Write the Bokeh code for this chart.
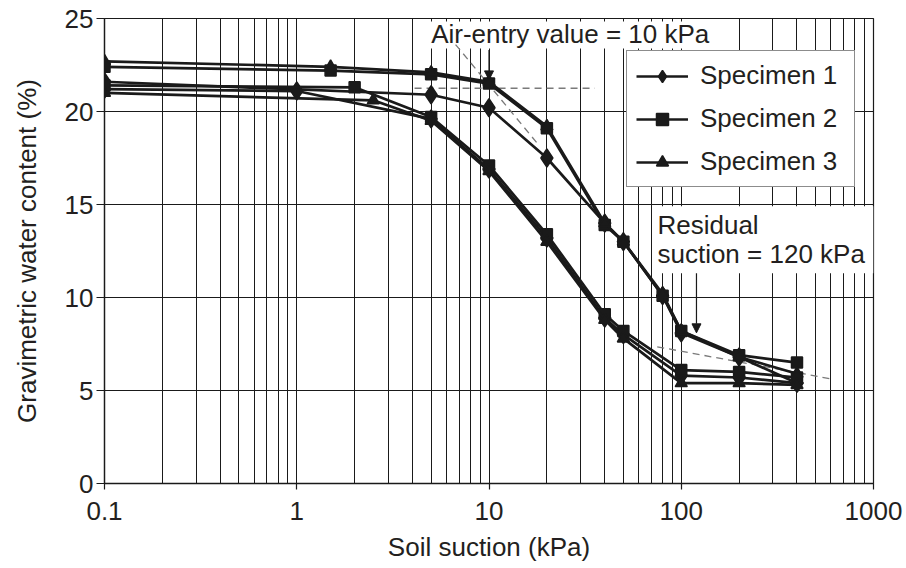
from bokeh.plotting import figure
from bokeh.models import FixedTicker, Label, Arrow, NormalHead
from bokeh.embed import file_html
from bokeh.resources import INLINE

FONT = "Liberation Sans"
INK = "#1a1a1a"
TEXT = "#231f20"

# Soil suction (kPa) and gravimetric water content (%) for each specimen.
# "a" = upper drying curve, "b" = lower drying curve.
s1a_x = [0.1, 5, 10, 20, 40, 50, 80, 100, 200, 400]
s1a_y = [21.6, 20.9, 20.2, 17.5, 14.0, 13.0, 10.1, 8.1, 6.8, 5.4]
s1b_x = [0.1, 1, 5, 10, 20, 40, 50, 100, 200, 400]
s1b_y = [21.2, 21.1, 19.6, 16.9, 13.2, 8.9, 8.0, 5.8, 5.7, 5.4]

s2a_x = [0.1, 1.5, 5, 10, 20, 40, 50, 80, 100, 200, 400]
s2a_y = [22.4, 22.2, 22.0, 21.5, 19.1, 13.9, 13.0, 10.1, 8.2, 6.9, 6.5]
s2b_x = [0.1, 2, 5, 10, 20, 40, 50, 100, 200, 400]
s2b_y = [21.4, 21.3, 19.7, 17.1, 13.4, 9.1, 8.2, 6.1, 6.0, 5.7]

s3a_x = [0.1, 1.5, 5, 10, 20, 40, 50, 80, 100, 200, 400]
s3a_y = [22.7, 22.4, 22.1, 21.6, 19.2, 14.0, 13.0, 10.2, 8.2, 6.8, 5.9]
s3b_x = [0.1, 2.5, 5, 10, 20, 40, 50, 100, 200, 400]
s3b_y = [21.0, 20.6, 19.5, 16.8, 13.0, 8.8, 7.8, 5.4, 5.4, 5.3]

x_ticks = [0.1, 1, 10, 100, 1000]
x_tick_labels = ["0.1", "1", "10", "100", "1000"]
y_ticks = [0, 5, 10, 15, 20, 25]

# Construction lines
air_entry = 10           # kPa
air_entry_level = 21.25  # %
residual = 120           # kPa

p = figure(width=906, height=568, x_axis_type="log",
           x_range=(0.1, 1000), y_range=(0, 25),
           output_backend="svg", toolbar_location=None,
           min_border_left=104, min_border_right=33,
           min_border_top=18, min_border_bottom=85)
p.background_fill_color = "white"
p.border_fill_color = "white"
p.outline_line_color = INK
p.outline_line_width = 1.2

minor = [k * 10.0 ** e for e in range(-1, 3) for k in range(2, 10)]
p.xaxis.ticker = FixedTicker(ticks=x_ticks, minor_ticks=minor)
p.xaxis.major_label_overrides = dict(zip(x_ticks, x_tick_labels))
p.yaxis.ticker = FixedTicker(ticks=y_ticks)

for g in (p.xgrid, p.ygrid):
    g.grid_line_color = INK
    g.grid_line_width = 1
p.xgrid.minor_grid_line_color = INK
p.xgrid.minor_grid_line_width = 1

for ax in (p.xaxis, p.yaxis):
    ax.axis_line_color = INK
    ax.axis_line_width = 1.3
    ax.major_tick_line_color = INK
    ax.major_tick_line_width = 1.2
    ax.major_tick_in = 0
    ax.minor_tick_line_color = None
    ax.major_label_text_font = FONT
    ax.major_label_text_font_size = "26px"
    ax.major_label_text_color = TEXT
    ax.axis_label_text_font = FONT
    ax.axis_label_text_font_size = "26px"
    ax.axis_label_text_font_style = "normal"
    ax.axis_label_text_color = TEXT

p.xaxis.major_tick_out = 6
p.xaxis.major_label_standoff = 12
p.xaxis.axis_label = "Soil suction (kPa)"
p.xaxis.axis_label_standoff = 9
p.yaxis.major_tick_out = 8
p.yaxis.major_label_standoff = 3
p.yaxis.axis_label = "Gravimetric water content (%)"
p.yaxis.axis_label_standoff = 20

# White panels behind the two notes (drawn before the curves)
p.quad(left=[4.67], right=[160], bottom=[23.39], top=[24.84],
       fill_color="white", line_color=None)
p.quad(left=[71], right=[1000], bottom=[11.3], top=[14.9],
       fill_color="white", line_color=None)

# Tangent construction lines
dash = dict(line_color="#7a7a7a", line_width=1.3, line_dash="7 5")
p.line([6.7, 17.8], [23.6, 18.3], **dash)
p.line([4.1, 35.5], [air_entry_level, air_entry_level], **dash)
p.line([75, 620], [7.35, 5.6], **dash)

line_kw = dict(line_color=INK, line_width=2.7)
specimens = [
    ("Specimen 1", "diamond", 18, [(s1a_x, s1a_y), (s1b_x, s1b_y)]),
    ("Specimen 2", "square", 11, [(s2a_x, s2a_y), (s2b_x, s2b_y)]),
    ("Specimen 3", "triangle", 12, [(s3a_x, s3a_y), (s3b_x, s3b_y)]),
]
for name, marker, size, curves in specimens:
    for i, (xs, ys) in enumerate(curves):
        kw = dict(legend_label=name) if i == 0 else {}
        p.line(xs, ys, **line_kw, **kw)
        p.scatter(xs, ys, marker=marker, size=size,
                  fill_color=INK, line_color=INK, line_width=1.5, **kw)

leg = p.legend[0]
leg.location = (522, 296)
leg.background_fill_color = "white"
leg.background_fill_alpha = 1
leg.border_line_color = INK
leg.border_line_width = 1.5
leg.label_text_font = FONT
leg.label_text_font_size = "26px"
leg.label_text_color = TEXT
leg.glyph_width = 52
leg.glyph_height = 30
leg.label_height = 30
leg.label_width = 145
leg.label_standoff = 12
leg.spacing = 12
leg.padding = 9
leg.margin = 0

note = dict(text_font=FONT, text_font_size="26px", text_color=TEXT,
            text_baseline="alphabetic")
p.add_layout(Label(x=5.0, y=24.18, text="Air-entry value = 10 kPa", **note))
p.add_layout(Label(x=75.2, y=13.9, text="Residual", **note))
p.add_layout(Label(x=75.2, y=12.35, text="suction = 120 kPa", **note))

head = dict(size=9, fill_color=INK, line_color=INK)
p.add_layout(Arrow(end=NormalHead(**head), x_start=air_entry, y_start=23.3,
                   x_end=air_entry, y_end=21.7, line_color=INK, line_width=1.2))
p.add_layout(Arrow(end=NormalHead(**head), x_start=residual, y_start=11.3,
                   x_end=residual, y_end=8.1, line_color=INK, line_width=1.2))

open("out.html", "w").write(file_html(p, INLINE))
